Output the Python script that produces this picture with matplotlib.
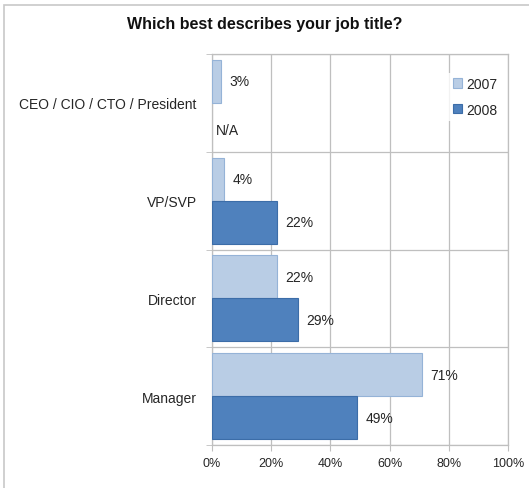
import matplotlib.pyplot as plt
import matplotlib.patches as mpatches
import numpy as np

plt.rcParams['font.family'] = ['Liberation Sans', 'DejaVu Sans']

titles = ['CEO / CIO / CTO / President', 'VP/SVP', 'Director', 'Manager']
y2007 = [3, 4, 22, 71]
y2008 = [None, 22, 29, 49]   # no 2008 figure for the top group
xticks = [0, 20, 40, 60, 80, 100]

light = '#B9CDE5'
light_edge = '#95B3D7'
dark = '#4F81BD'
dark_edge = '#3C6DA8'
grid_col = '#BFBFBF'

W, H = 529, 489
fig = plt.figure(figsize=(W / 100, H / 100), dpi=100)
ax = fig.add_axes([212 / W, 1 - 446 / H, 296 / W, 391 / H])

pos = np.arange(len(titles))
h = 0.44
ok = [i for i, v in enumerate(y2008) if v is not None]
ax.barh(pos - h / 2, y2007, height=h, color=light, edgecolor=light_edge, linewidth=0.8, label='2007', zorder=3)
ax.barh(pos[ok] + h / 2, [y2008[i] for i in ok], height=h, color=dark, edgecolor=dark_edge,
        linewidth=0.8, label='2008', zorder=3)

# value labels next to each bar
for i, v in enumerate(y2007):
    ax.annotate(f'{v}%', (v, pos[i] - h / 2), xytext=(6, 0), textcoords='offset points',
                va='center', ha='left', fontsize=10, color='#262626')
for i, v in enumerate(y2008):
    txt = 'N/A' if v is None else f'{v}%'
    ax.annotate(txt, (0 if v is None else v, pos[i] + h / 2), xytext=(3 if v is None else 6, -4 if v is None else 0),
                textcoords='offset points', va='center', ha='left', fontsize=10, color='#262626')

ax.set_xlim(0, 100)
ax.set_ylim(len(titles) - 0.5, -0.5)
ax.set_xticks(xticks)
ax.set_xticklabels([f'{t}%' for t in xticks], fontsize=9, color='#262626')
ax.set_yticks(pos)
ax.set_yticklabels(titles, fontsize=10, color='#262626')
ax.tick_params(axis='y', length=0, pad=11)
ax.tick_params(axis='x', length=4, color=grid_col, pad=5)

# category separators with short outward ticks
ax.set_yticks(np.arange(-0.5, len(titles)), minor=True)
ax.tick_params(axis='y', which='minor', length=4, color=grid_col)
ax.grid(axis='y', which='minor', color=grid_col, linewidth=0.9, zorder=0)
ax.grid(axis='x', which='major', color=grid_col, linewidth=0.9, zorder=0)
for s in ax.spines.values():
    s.set_color(grid_col)
    s.set_linewidth(0.9)

leg = ax.legend(loc='upper right', bbox_to_anchor=(1.0, 0.97), frameon=True, fontsize=10,
                handlelength=0.65, handleheight=0.65, handletextpad=0.3, labelspacing=0.85,
                borderpad=0.3, edgecolor='none', fancybox=False)
leg.get_frame().set_facecolor('white')
for t in leg.get_texts():
    t.set_color('#262626')

fig.text(0.5, 1 - 25 / H, 'Which best describes your job title?', ha='center', va='center',
         fontsize=11.5, fontweight='bold', color='#111111')

# chart border (left and top edges visible)
fig.add_artist(mpatches.Rectangle((4 / W, -0.1), 1.1, 1.1 - 6 / H, transform=fig.transFigure,
                                  fill=False, edgecolor='#C8C8C8', linewidth=1.2))

fig.savefig('out.png', dpi=100)
